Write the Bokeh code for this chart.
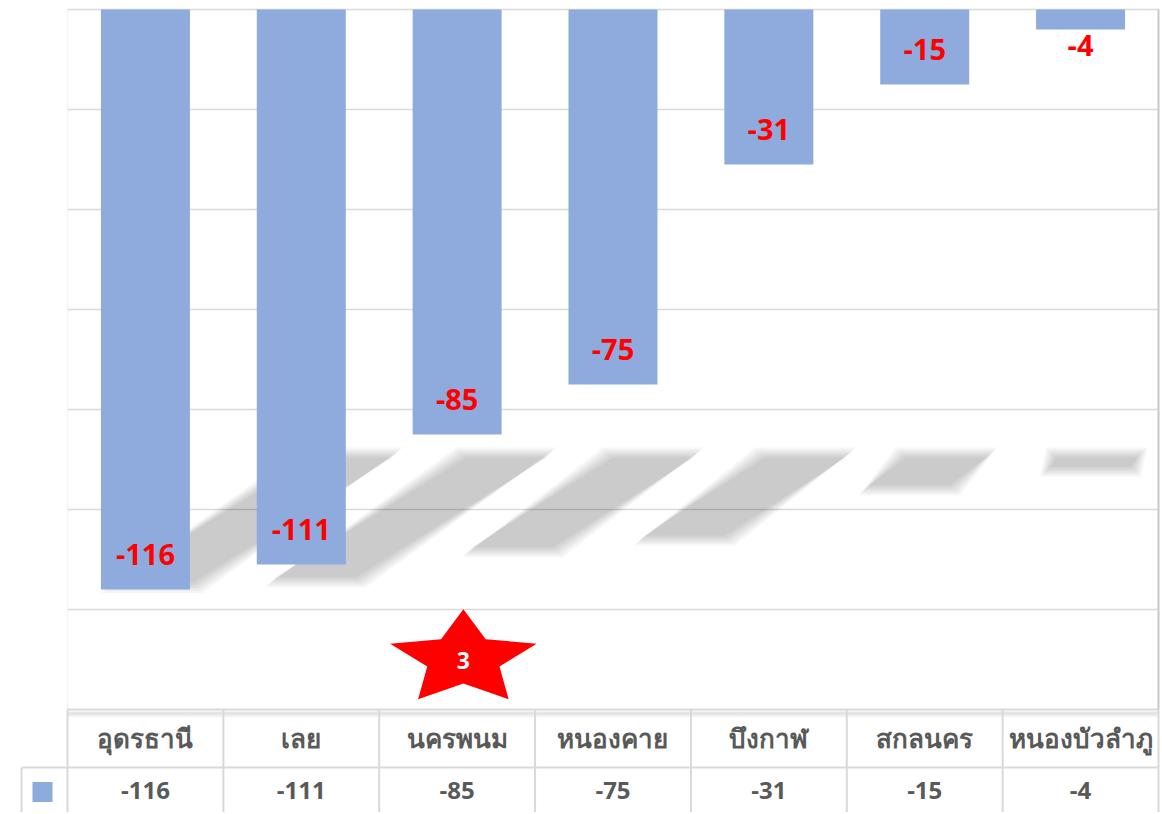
import math
from bokeh.plotting import figure
from bokeh.models import Range1d
from bokeh.embed import file_html
from bokeh.resources import INLINE
from bokeh.core.properties import value

# ---------------- data ----------------
categories = ["อุดรธานี", "เลย", "นครพนม", "หนองคาย", "บึงกาฬ", "สกลนคร", "หนองบัวลำภู"]
values = [-116, -111, -85, -75, -31, -15, -4]
grid_ticks = [0, -20, -40, -60, -80, -100, -120]
axis_floor = -140
star_rank = "3"
star_category = "นครพนม"

# ---------------- styles ----------------
BAR = "#8FAADC"
GRID = "#d9d9d9"
TXT = "#595959"
FONT = "Open Sans"

W, H = 1160, 812
PXX = 155.857
PXY = 5.0
X0 = -67 / PXX
X1 = X0 + W / PXX
Y1 = 9 / PXY
Y0 = Y1 - H / PXY
n = len(categories)
xc = [i + 0.5 for i in range(n)]
BW = 0.571

p = figure(width=W, height=H, x_range=Range1d(X0, X1), y_range=Range1d(Y0, Y1),
           output_backend="svg", toolbar_location=None, title=None,
           min_border_left=0, min_border_right=0, min_border_top=0, min_border_bottom=0)
p.xaxis.visible = False
p.yaxis.visible = False
p.xgrid.visible = False
p.ygrid.visible = False
p.outline_line_color = None
p.background_fill_color = "white"
p.border_fill_color = "white"

# gridlines
p.segment(x0=[0] * len(grid_ticks), x1=[n] * len(grid_ticks), y0=grid_ticks, y1=grid_ticks,
          line_color=GRID, line_width=1.5)
# faint left border of plot area
p.segment(x0=[0.002], x1=[0.002], y0=[0], y1=[axis_floor], line_color="#eeeeee", line_width=1)

# perspective shadows (derived from bar values)
for i, v in enumerate(values):
    a = -v
    st = (166.8 + 0.3465 * a) / PXX
    sb = (189.75 - 1.583 * a) / PXX
    yt = -88.8
    yb = -88.8 - 0.23 * a
    half = BW / 2
    for d in [6, 4, 2, 0, -2, -4]:
        dx = d / PXX
        dy = d / PXY
        if (yt + dy) - (yb - dy) <= 0:
            continue
        xs = [xc[i] - half + sb - dx, xc[i] + half + sb + dx, xc[i] + half + st + dx, xc[i] - half + st - dx]
        ys = [yb - dy, yb - dy, yt + dy, yt + dy]
        p.patch(xs, ys, fill_color="black", fill_alpha=0.037, line_color=None)

# bars
p.vbar(x=xc, top=[0] * n, bottom=values, width=BW, fill_color=BAR, line_color=None)

# data labels
label_y = [min(v + 7, -7.2) for v in values]
p.text(x=xc, y=label_y, text=[str(v) for v in values], text_color="#ff0000",
       text_font=value(FONT), text_font_style="bold", text_font_size="29px",
       text_align="center", text_baseline="middle")

# axis line with soft shadow
p.segment(x0=[0], x1=[n], y0=[axis_floor - 0.7], y1=[axis_floor - 0.7], line_color="black", line_alpha=0.10, line_width=3)
p.segment(x0=[0], x1=[n], y0=[axis_floor - 1.2], y1=[axis_floor - 1.2], line_color="black", line_alpha=0.05, line_width=3)
p.segment(x0=[0], x1=[n], y0=[axis_floor], y1=[axis_floor], line_color=GRID, line_width=2)
# right border of plot area
p.segment(x0=[n], x1=[n], y0=[0], y1=[axis_floor], line_color="#c8c8c8", line_width=2)

# data table
row_split = axis_floor - 11.6
leg_left = -46 / PXX
vx = [float(k) for k in range(n + 1)]
p.segment(x0=vx, x1=vx, y0=[axis_floor] * (n + 1), y1=[Y0] * (n + 1), line_color=GRID, line_width=2)
p.segment(x0=[leg_left], x1=[n], y0=[row_split], y1=[row_split], line_color=GRID, line_width=2)
p.segment(x0=[leg_left], x1=[leg_left], y0=[row_split], y1=[Y0], line_color=GRID, line_width=2)

p.text(x=xc, y=[axis_floor - 5.6] * n, text=categories, text_color=TXT,
       text_font=value(FONT), text_font_style="bold", text_font_size="26px",
       text_align="center", text_baseline="middle")
p.text(x=xc, y=[axis_floor - 16.2] * n, text=[str(v) for v in values], text_color=TXT,
       text_font=value(FONT), text_font_style="bold", text_font_size="24px",
       text_align="center", text_baseline="middle")
p.scatter(x=[-25 / PXX], y=[axis_floor - 16.5], marker="square", size=20, fill_color=BAR, line_color=None)

# star annotation
ci = categories.index(star_category)
scx = ci + 0.54
scy = -129.9
R, r, sx = 49.7, 24.5, 1.55
sxs, sys_ = [], []
for k in range(10):
    ang = math.radians(90 + k * 36)
    rad = R if k % 2 == 0 else r
    sxs.append(scx + rad * math.cos(ang) * sx / PXX)
    sys_.append(scy + rad * math.sin(ang) / PXY)
p.patch(sxs, sys_, fill_color="#ff0000", line_color=None)
p.text(x=[scx], y=[-130.2], text=[star_rank], text_color="white",
       text_font=value(FONT), text_font_style="bold", text_font_size="23px",
       text_align="center", text_baseline="middle")

open("out.html", "w").write(file_html(p, INLINE))
